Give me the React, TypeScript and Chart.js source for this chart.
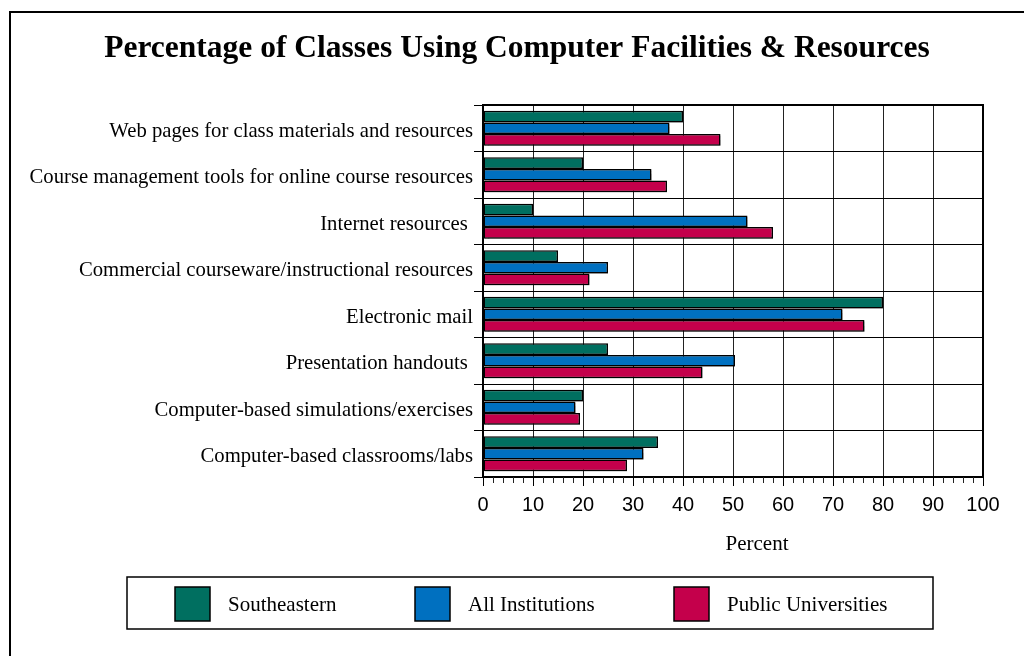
import React, { useEffect, useRef } from 'react';
import { Chart, registerables } from 'chart.js';

Chart.register(...registerables);

const chartTitle = 'Percentage of Classes Using Computer Facilities & Resources';
const axisTitle = 'Percent';

const categories = [
  'Web pages for class materials and resources',
  'Course management tools for online course resources',
  'Internet resources ',
  'Commercial courseware/instructional resources',
  'Electronic mail',
  'Presentation handouts ',
  'Computer-based simulations/exercises',
  'Computer-based classrooms/labs',
];

const southeastern = [40, 20, 10, 15, 80, 25, 20, 35];
const allInstitutions = [37.3, 33.7, 52.9, 25, 71.9, 50.4, 18.5, 32.1];
const publicUniversities = [47.5, 36.8, 58, 21.3, 76.3, 43.9, 19.4, 28.8];

const seriesNames = ['Southeastern', 'All Institutions', 'Public Universities'];
const seriesColors = ['#006f60', '#0070c0', '#c4004b'];

const xMin = 0;
const xMax = 100;
const xStep = 10;
const xMinorStep = 2;

const SERIF = '"Liberation Serif", "Times New Roman", serif';
const SANS = '"Liberation Sans", Arial, sans-serif';

const decorPlugin = {
  id: 'decor',
  beforeDatasetsDraw(chart: any) {
    const ctx = chart.ctx;
    ctx.save();
    ctx.shadowColor = 'rgba(0,0,0,0.35)';
    ctx.shadowOffsetX = 1.5;
    ctx.shadowOffsetY = 1.5;
    ctx.shadowBlur = 1;
  },
  afterDatasetsDraw(chart: any) {
    chart.ctx.restore();
  },
  afterDraw(chart: any) {
    const ctx = chart.ctx as CanvasRenderingContext2D;
    const area = chart.chartArea;
    const xs = chart.scales.x;
    const ys = chart.scales.y;
    ctx.save();

    // outer frame
    ctx.strokeStyle = '#000';
    ctx.lineWidth = 2;
    ctx.strokeRect(10, 12, 1040, 700);

    // title
    ctx.fillStyle = '#000';
    ctx.font = `bold 31.5px ${SERIF}`;
    ctx.textAlign = 'center';
    ctx.textBaseline = 'middle';
    ctx.fillText(chartTitle, 517, 49);

    // category labels
    ctx.font = `20.7px ${SERIF}`;
    ctx.textAlign = 'right';
    ctx.textBaseline = 'middle';
    (chart.data.labels as string[]).forEach((lab: string, i: number) => {
      const py = ys.getPixelForValue(i);
      ctx.fillText(lab, area.left - 10, py + 3);
    });

    // plot top and right borders
    ctx.lineWidth = 2;
    ctx.beginPath();
    ctx.moveTo(area.left, area.top);
    ctx.lineTo(area.right, area.top);
    ctx.lineTo(area.right, area.bottom);
    ctx.stroke();

    // minor ticks
    ctx.lineWidth = 1;
    ctx.strokeStyle = '#222';
    for (let v = xMin; v <= xMax; v += xMinorStep) {
      if (v % xStep === 0) continue;
      const px = Math.round(xs.getPixelForValue(v)) + 0.5;
      ctx.beginPath();
      ctx.moveTo(px, area.bottom);
      ctx.lineTo(px, area.bottom + 6);
      ctx.stroke();
    }

    // axis title
    ctx.fillStyle = '#000';
    ctx.font = `21px ${SERIF}`;
    ctx.textAlign = 'center';
    ctx.fillText(axisTitle, 757, 544);

    // legend
    ctx.strokeStyle = '#000';
    ctx.lineWidth = 1.5;
    ctx.strokeRect(127, 577, 806, 52);
    const swatchX = [175, 415, 674];
    chart.data.datasets.forEach((ds: any, i: number) => {
      const x = swatchX[i];
      ctx.fillStyle = ds.backgroundColor;
      ctx.fillRect(x, 587, 35, 34);
      ctx.lineWidth = 1.5;
      ctx.strokeStyle = '#000';
      ctx.strokeRect(x, 587, 35, 34);
      ctx.fillStyle = '#000';
      ctx.font = `21px ${SERIF}`;
      ctx.textAlign = 'left';
      ctx.textBaseline = 'middle';
      ctx.fillText(ds.label, x + 53, 605);
    });

    ctx.restore();
  },
};

export default function App() {
  const ref = useRef<HTMLCanvasElement | null>(null);

  useEffect(() => {
    if (!ref.current) return;
    const chart = new Chart(ref.current, {
      type: 'bar',
      data: {
        labels: categories,
        datasets: [southeastern, allInstitutions, publicUniversities].map((d, i) => ({
          label: seriesNames[i],
          data: d,
          backgroundColor: seriesColors[i],
          borderColor: '#000',
          borderWidth: 1.5,
          borderSkipped: false,
          categoryPercentage: 0.75,
          barPercentage: 1,
        })),
      },
      options: {
        indexAxis: 'y',
        animation: false,
        responsive: false,
        maintainAspectRatio: false,
        events: [],
        layout: { padding: { top: 105, right: 41, bottom: 139, left: 0 } },
        plugins: {
          legend: { display: false },
          title: { display: false },
          tooltip: { enabled: false },
        },
        scales: {
          x: {
            min: xMin,
            max: xMax,
            afterFit(scale: any) {
              scale.height = 40;
            },
            ticks: {
              stepSize: xStep,
              color: '#000',
              font: { family: SANS, size: 20 },
              padding: 7,
              maxRotation: 0,
            },
            grid: {
              color: '#222',
              lineWidth: 1,
              tickLength: 9,
              tickColor: '#000',
            },
            border: { display: true, color: '#000', width: 2 },
          },
          y: {
            afterFit(scale: any) {
              scale.width = 483;
            },
            ticks: {
              display: false,
              autoSkip: false,
            },
            grid: {
              color: '#000',
              lineWidth: 1,
              tickLength: 9,
              offset: true,
            },
            border: { display: true, color: '#000', width: 2 },
          },
        },
      },
      plugins: [decorPlugin],
    });
    return () => chart.destroy();
  }, []);

  return (
    <div style={{ position: 'fixed', left: 0, top: 0, width: 1024, height: 656, background: '#fff' }}>
      <canvas ref={ref} width={1024} height={656} style={{ width: 1024, height: 656, display: 'block' }} />
    </div>
  );
}
